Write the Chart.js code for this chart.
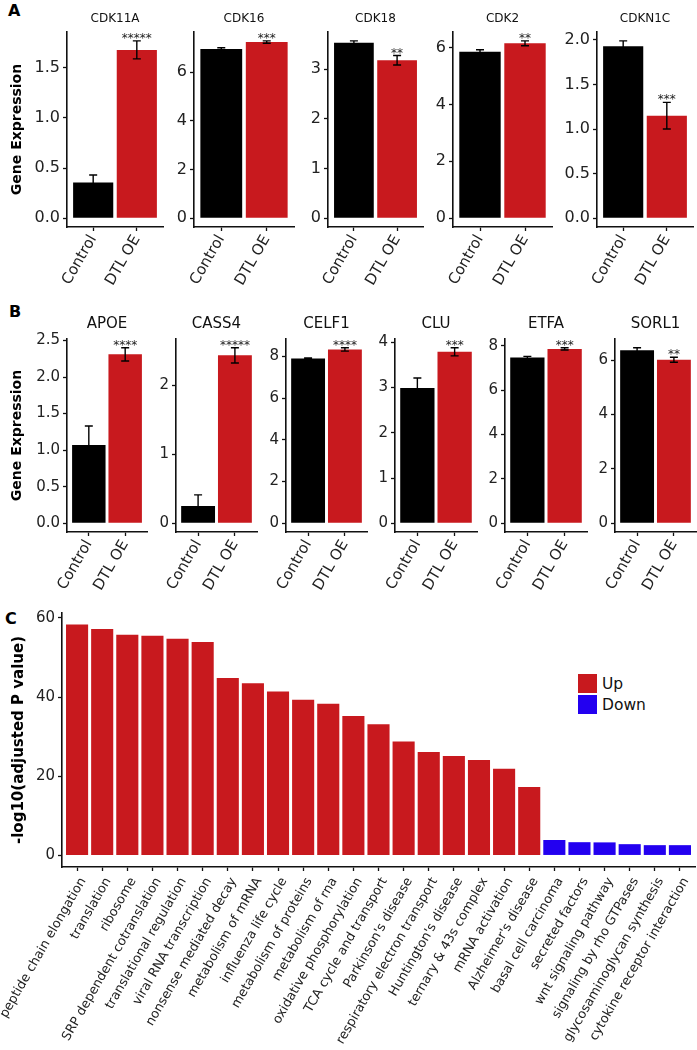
<!DOCTYPE html>
<html>
<head>
<meta charset="utf-8">
<script src="https://cdn.jsdelivr.net/npm/chart.js@4.4.1/dist/chart.umd.min.js"></script>
<style>
  body { margin: 0; background: #fff; }
  #fig { position: relative; width: 697px; height: 1050px; font-family: "DejaVu Sans", sans-serif; }
  .tag { position: absolute; font: bold 16px/16px "DejaVu Sans", sans-serif; color: #000; }
  #legendC { position: absolute; left: 578px; top: 673px; }
  .key { display: flex; align-items: center; height: 21px; font-size: 15.5px; color: #111; }
  .sw { width: 19px; height: 19px; margin-right: 5px; }
</style>
</head>
<body>
<div id="fig">
  <div class="tag" style="left:8px;top:3px">A</div>
  <div class="tag" style="left:9px;top:304px">B</div>
  <div class="tag" style="left:5px;top:611px">C</div>
  <div id="legendC"></div>
</div>
<script>
// ---- data ----
const groups = ['Control', 'DTL OE'];

// panel A
const genesA = ['CDK11A', 'CDK16', 'CDK18', 'CDK2', 'CDKN1C'];
const controlMeanA = [0.355, 6.95, 3.53, 5.85, 1.93];
const controlSeA = [0.075, 0.05, 0.04, 0.07, 0.06];
const oeMeanA = [1.68, 7.23, 3.18, 6.15, 1.15];
const oeSeA = [0.09, 0.05, 0.095, 0.085, 0.15];
const starsA = ['*****', '***', '**', '**', '***'];
const yTicksA = [['0.0', '0.5', '1.0', '1.5'], ['0', '2', '4', '6'], ['0', '1', '2', '3'], ['0', '2', '4', '6'], ['0.0', '0.5', '1.0', '1.5', '2.0']];

// panel B
const genesB = ['APOE', 'CASS4', 'CELF1', 'CLU', 'ETFA', 'SORL1'];
const controlMeanB = [1.07, 0.25, 7.90, 2.99, 7.47, 6.36];
const controlSeB = [0.26, 0.16, 0.03, 0.22, 0.05, 0.09];
const oeMeanB = [2.31, 2.43, 8.34, 3.79, 7.86, 6.01];
const oeSeB = [0.09, 0.11, 0.08, 0.09, 0.05, 0.09];
const starsB = ['****', '*****', '****', '***', '***', '**'];
const yTicksB = [['0.0', '0.5', '1.0', '1.5', '2.0', '2.5'], ['0', '1', '2'], ['0', '2', '4', '6', '8'], ['0', '1', '2', '3', '4'], ['0', '2', '4', '6', '8'], ['0', '2', '4', '6']];

// panel C
const pathways = ['peptide chain elongation', 'translation', 'ribosome', 'SRP dependent cotranslation',
  'translational regulation', 'viral RNA transcription', 'nonsense mediated decay', 'metabolism of mRNA',
  'influenza life cycle', 'metabolism of proteins', 'metabolism of rna', 'oxidative phosphorylation',
  'TCA cycle and transport', "Parkinson's disease", 'respiratory electron transport', "Huntington's disease",
  'ternary & 43s complex', 'mRNA activation', "Alzheimer's disease", 'basal cell carcinoma',
  'secreted factors', 'wnt signaling pathway', 'signaling by rho GTPases', 'glycosaminoglycan synthesis',
  'cytokine receptor interaction'];
const pathwayScores = [58.3, 57.2, 55.7, 55.5, 54.7, 53.9, 44.8, 43.5, 41.4, 39.3, 38.3, 35.2, 33.1,
  28.8, 26.1, 25.1, 24.1, 21.9, 17.3, 3.9, 3.35, 3.3, 2.85, 2.6, 2.6];
const pathwayDir = ['Up', 'Up', 'Up', 'Up', 'Up', 'Up', 'Up', 'Up', 'Up', 'Up', 'Up', 'Up', 'Up',
  'Up', 'Up', 'Up', 'Up', 'Up', 'Up', 'Down', 'Down', 'Down', 'Down', 'Down', 'Down'];
const yTicksC = ['0', '20', '40', '60'];
const legendLabels = ['Up', 'Down'];

// ---- look ----
const RED = '#c8191e', BLUE = '#2300f0', INK = '#111';
const dirColor = { Up: RED, Down: BLUE };
Chart.defaults.font.family = '"DejaVu Sans", sans-serif';
Chart.defaults.color = '#1a1a1a';

const fig = document.getElementById('fig');

function makeCanvas(left, top, w, h) {
  const c = document.createElement('canvas');
  c.width = w; c.height = h;
  c.style.cssText = `position:absolute;left:${left}px;top:${top}px;width:${w}px;height:${h}px`;
  fig.appendChild(c);
  return c;
}

// symmetric error bars + significance stars over the last bar
function errorBarPlugin(ses, stars) {
  return {
    id: 'errorBars',
    afterDatasetsDraw(chart) {
      const { ctx } = chart;
      const x = chart.scales.x, y = chart.scales.y;
      const pts = chart.data.datasets[0].data;
      ctx.save();
      ctx.strokeStyle = '#000';
      ctx.lineWidth = 1.4;
      pts.forEach((p, i) => {
        const cx = x.getPixelForValue(p.x);
        const hi = y.getPixelForValue(p.y + ses[i]);
        const lo = y.getPixelForValue(p.y - ses[i]);
        ctx.beginPath();
        ctx.moveTo(cx, hi); ctx.lineTo(cx, lo);
        ctx.moveTo(cx - 4, hi); ctx.lineTo(cx + 4, hi);
        ctx.moveTo(cx - 4, lo); ctx.lineTo(cx + 4, lo);
        ctx.stroke();
      });
      const k = pts.length - 1;
      ctx.fillStyle = '#222';
      ctx.font = '12px "DejaVu Sans"';
      ctx.textAlign = 'center';
      ctx.textBaseline = 'alphabetic';
      ctx.fillText(stars, x.getPixelForValue(pts[k].x), y.getPixelForValue(pts[k].y + ses[k]) + 1);
      ctx.restore();
    }
  };
}

function xAxis(labels, size, height, pad, shift) {
  return {
    type: 'linear', min: 0.4, max: labels.length + 0.6, offset: false,
    afterBuildTicks: a => { a.ticks = labels.map((_, i) => ({ value: i + 1 })); },
    afterFit: a => { a.height = height; a.paddingLeft = 0; a.paddingRight = 0; },
    ticks: { callback: v => labels[v - 1], autoSkip: false, minRotation: 60, maxRotation: 60,
      color: '#222', font: { size }, padding: pad, labelOffset: shift },
    grid: { drawOnChartArea: false, offset: false, tickLength: 4, tickWidth: 1.3, tickColor: INK },
    border: { color: INK, width: 1.6 }
  };
}

function yAxis(labels, peak, size, width, title) {
  return {
    min: -0.05 * peak, max: 1.05 * peak,
    afterBuildTicks: a => { a.ticks = labels.map(t => ({ value: parseFloat(t) })); },
    afterFit: a => { a.width = width; },
    ticks: { callback: (v, i) => labels[i], color: '#222', font: { size }, padding: 3 },
    grid: { drawOnChartArea: false, tickLength: 4, tickWidth: 1.3, tickColor: INK },
    border: { color: INK, width: 1.6 },
    title: title
      ? { display: true, text: title.text, color: '#000', font: { size: title.size, weight: 'bold' }, padding: { top: title.pad, bottom: 0 } }
      : { display: false }
  };
}

function geneChart(s) {
  const canvas = makeCanvas(s.axisX - s.yw, s.top, s.axisEnd - s.axisX + s.yw + s.rp, s.height);
  const peak = Math.max(...s.means.map((m, i) => m + s.ses[i]));
  new Chart(canvas, {
    type: 'bar',
    data: {
      datasets: [{
        data: s.means.map((m, i) => ({ x: i + 1, y: m })),
        backgroundColor: ['#000', RED],
        barPercentage: 0.92, categoryPercentage: 1
      }]
    },
    options: {
      responsive: false, animation: false, events: [],
      layout: { padding: { right: s.rp } },
      plugins: {
        legend: { display: false }, tooltip: { enabled: false },
        title: { display: true, text: s.name, fullSize: false, color: INK,
          font: { size: s.titleSize, weight: 'normal' }, padding: s.titlePad }
      },
      scales: {
        x: xAxis(groups, 15, s.xh, 1, 0),
        y: yAxis(s.ticks, peak, s.yFont, s.yw, s.axisTitle)
      }
    },
    plugins: [errorBarPlugin(s.ses, s.stars)]
  });
}

// ---- panel A ----
const frameA = [[67, 163], [194, 294], [328, 423], [453, 552], [597, 693]];
genesA.forEach((g, i) => geneChart({
  name: g, means: [controlMeanA[i], oeMeanA[i]], ses: [controlSeA[i], oeSeA[i]],
  stars: starsA[i], ticks: yTicksA[i],
  axisX: frameA[i][0], axisEnd: frameA[i][1], top: 0, height: 290,
  yw: i === 0 ? 67 : 40, rp: i === genesA.length - 1 ? 4 : 10,
  titleSize: 12, titlePad: { top: 11.8, bottom: 5.8 }, xh: 63, yFont: 16,
  axisTitle: i === 0 ? { text: 'Gene Expression', size: 14, pad: 8.5 } : null
}));

// ---- panel B ----
const frameB = [[67, 147], [176, 257], [286, 367], [395, 477], [505, 587], [615, 696]];
genesB.forEach((g, i) => geneChart({
  name: g, means: [controlMeanB[i], oeMeanB[i]], ses: [controlSeB[i], oeSeB[i]],
  stars: starsB[i], ticks: yTicksB[i],
  axisX: frameB[i][0], axisEnd: frameB[i][1], top: 300, height: 300,
  yw: i === 0 ? 67 : 40, rp: i === genesB.length - 1 ? 1 : 10,
  titleSize: 15, titlePad: { top: 15, bottom: 6 }, xh: 68, yFont: 15,
  axisTitle: i === 0 ? { text: 'Gene Expression', size: 14, pad: 8.5 } : null
}));

// ---- panel C ----
const canvasC = makeCanvas(0, 600, 697, 450);
const peakC = Math.max(...pathwayScores);
new Chart(canvasC, {
  type: 'bar',
  data: {
    datasets: [{
      data: pathwayScores.map((v, i) => ({ x: i + 1, y: v })),
      backgroundColor: pathwayDir.map(d => dirColor[d]),
      barPercentage: 0.88, categoryPercentage: 1
    }]
  },
  options: {
    responsive: false, animation: false, events: [],
    layout: { padding: { top: 13, right: 2 } },
    plugins: { legend: { display: false }, tooltip: { enabled: false }, title: { display: false } },
    scales: {
      x: xAxis(pathways, 12.8, 183, 4, 6),
      y: yAxis(yTicksC, peakC, 15, 62, { text: '-log10(adjusted P value)', size: 15, pad: 10 })
    }
  }
});

const legendBox = document.getElementById('legendC');
legendLabels.forEach(l => {
  const row = document.createElement('div');
  row.className = 'key';
  row.innerHTML = `<span class="sw" style="background:${dirColor[l]}"></span>${l}`;
  legendBox.appendChild(row);
});
</script>
</body>
</html>
